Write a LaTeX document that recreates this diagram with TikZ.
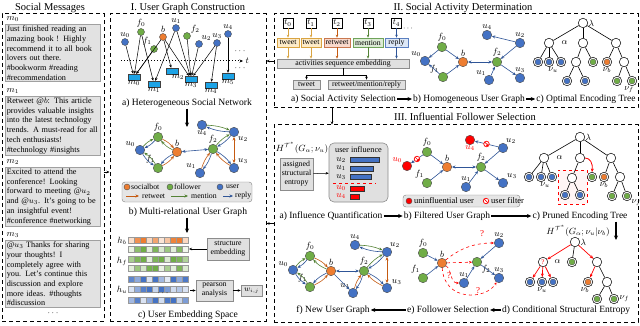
\documentclass[tikz,border=0pt]{standalone}
\usepackage{fontspec}
\setmainfont{Liberation Serif}
\usetikzlibrary{arrows.meta,calc}
\definecolor{ublue}{HTML}{4472C4}
\definecolor{fgreen}{HTML}{70AD47}
\definecolor{borange}{HTML}{ED7D31}
\definecolor{msgfill}{HTML}{E2E2E2}
\definecolor{msgdraw}{HTML}{A0A0A0}
\definecolor{mcyan}{HTML}{1CA3E6}
\definecolor{twf}{HTML}{FDEBC8}
\definecolor{twd}{HTML}{D9A441}
\definecolor{rtf}{HTML}{F9D9CC}
\definecolor{rtd}{HTML}{C9784F}
\definecolor{mnf}{HTML}{DCEBD5}
\definecolor{mnd}{HTML}{6FA35A}
\definecolor{rpf}{HTML}{DDE8F7}
\definecolor{rpd}{HTML}{5B7FC0}
\definecolor{retc}{HTML}{C55A11}
\definecolor{menc}{HTML}{548235}
\definecolor{repc}{HTML}{2F5597}
\tikzset{
  nd/.style={circle,draw=black!70,line width=0.4pt,minimum size=9.5pt,inner sep=0pt},
  usr/.style={nd,fill=ublue},
  fol/.style={nd,fill=fgreen},
  bot/.style={nd,fill=borange},
  bad/.style={nd,fill=red},
  sm/.style={minimum size=7pt},
  tn/.style={circle,draw=black,fill=white,line width=0.5pt,minimum size=9.5pt,inner sep=0pt},
  leaf/.style={tn,path picture={\filldraw[fill=#1,draw=black!70,line width=0.3pt] (path picture bounding box.center) circle (3pt);}},
  lab/.style={font=\fontsize{9}{9}\selectfont,inner sep=0.5pt},
  rlab/.style={lab,text=red},
  msgbox/.style={draw=msgdraw,fill=msgfill,line width=0.7pt,text width=92pt,align=left,inner sep=1.5pt,font=\fontsize{8.2}{9.7}\selectfont,anchor=north west},
  mrect/.style={draw=black!75,fill=mcyan,minimum width=12pt,minimum height=6pt,inner sep=0pt},
  sect/.style={draw,line width=1pt,dash pattern=on 4pt off 3pt,inner sep=0pt},
  ttl/.style={font=\fontsize{10.5}{12}\selectfont},
  capt/.style={font=\fontsize{9.5}{11}\selectfont,inner sep=1pt},
  smt/.style={font=\fontsize{7.8}{9}\selectfont},
  gbox/.style={draw=black!45,fill=black!12,line width=0.6pt,smt,align=center,inner sep=1pt},
  ret/.style={->,draw=retc,line width=0.6pt},
  men/.style={->,draw=menc,line width=0.6pt},
  rep/.style={->,draw=repc,line width=0.6pt},
  hed/.style={-{Stealth[length=3pt,width=2.5pt]},line width=0.5pt},
  bigar/.style={-{Stealth[length=4.5pt,width=4pt]},line width=1.1pt},
  filt/.style={circle,draw=red,fill=white,line width=0.7pt,minimum size=5.5pt,inner sep=0pt,path picture={\draw[red,line width=0.7pt] (path picture bounding box.north west) -- (path picture bounding box.south east);}},
  tbox/.style={draw,fill=white,minimum width=10pt,minimum height=10pt,inner sep=0.5pt,font=\fontsize{8.5}{8.5}\selectfont},
  act/.style={smt,line width=0.6pt,inner sep=1pt,minimum height=9pt},
  tedge/.style={line width=0.6pt},
  rdash/.style={red,dashed,line width=0.6pt,-{Stealth[length=3pt,width=2.5pt]}},
}
\begin{document}
\begin{tikzpicture}[x=1pt,y=-1pt,>={Stealth[length=3.5pt,width=3pt]}]
\path[use as bounding box] (0,0) rectangle (640,326);
% ---------------- section frames
\node[sect,minimum width=102pt,minimum height=307pt] (S0) at (53,167.5) {};
\node[sect,minimum width=156pt,minimum height=307pt] (S1) at (188,167.5) {};
\node[sect,minimum width=364pt,minimum height=94pt] (S2) at (456,61) {};
\node[sect,minimum width=364pt,minimum height=197pt] (S3) at (456,223.5) {};
\node[ttl] (T0) at (50,8) {Social Messages};
\node[ttl] (T1) at (188,8) {I. User Graph Construction};
\node[ttl] (T2) at (463,8) {II. Social Activity Determination};
\node[ttl] (T3) at (465,117) {III. Influential Follower Selection};
\coordinate (pA) at (104,172);
\draw[hed] (pA) -- (pA -| S1.west);
\draw[hed] (S2.west) -- (S2.west -| S1.east);
\draw[hed] (S3.west) -- (S3.west -| S1.east);
\coordinate (pD) at (332,108);
\draw[hed] (pD) -- (pD |- S3.north);
% ---------------- social messages
\node[lab,anchor=west] (lm0) at (6,19) {$m_0$};
\node[msgbox] (m0) at (5,24) {Just finished reading an\\amazing book ! Highly\\recommend it to all book\\lovers out there.\\\#bookworm \#reading\\\#recommendation};
\node[lab,anchor=west] (lm1) at (6,91) {$m_1$};
\node[msgbox] (m1) at (5,96) {Retweet @$b$: This article\\provides valuable insights\\into the latest technology\\trends. A must-read for all\\tech enthusiasts!\\\#technology \#insights};
\node[lab,anchor=west] (lm2) at (6,162) {$m_2$};
\node[msgbox] (m2) at (5,167) {Excited to attend the\\conference! Looking\\forward to meeting @$u_2$\\and @$u_3$. It's going to be\\an insightful event!\\\#conference \#networking};
\node[lab,anchor=west] (lm3) at (6,235) {$m_3$};
\node[msgbox] (m3) at (5,240) {@$u_3$ Thanks for sharing\\your thoughts! I\\completely agree with\\you. Let's continue this\\discussion and explore\\more ideas. \#thoughts\\\#discussion};
\node[lab] (mdots) at (53,313) {$\cdots$};
% ---------------- I a) heterogeneous network
\node[usr,sm,label={[lab]above:$u_0$}] (au0) at (125,42) {};
\node[fol,sm,label={[lab]above:$f_0$}] (af0) at (141,32) {};
\node[bot,sm,label={[lab]above:$b$}] (ab) at (163,37) {};
\node[fol,sm,label={[lab]120:$f_1$}] (af1) at (154,49) {};
\node[usr,sm,label={[lab]above:$u_1$}] (au1) at (176,28) {};
\node[fol,sm,label={[lab]30:$f_2$}] (af2) at (187,36) {};
\node[usr,sm,label={[lab]60:$u_2$}] (au2) at (199,44) {};
\node[usr,sm,label={[lab]above:$u_3$}] (au3) at (217,43) {};
\node[usr,sm,label={[lab]above:$u_4$}] (au4) at (228,34) {};
\node[mrect,label={[lab]below:$m_0$}] (am0) at (134,77) {};
\node[mrect,label={[lab]below:$m_1$}] (am1) at (154,84) {};
\node[mrect,label={[lab,xshift=6pt]below:$m_2$}] (am2) at (172,71) {};
\node[mrect,label={[lab]below:$m_3$}] (am3) at (191,79) {};
\node[mrect,label={[lab]below:$m_4$}] (am4) at (211,85) {};
\node[mrect,label={[lab]below:$m_5$}] (am5) at (228,76) {};
\foreach \a/\b in {au0/am0,af0/am0,af0/am1,af1/am0,ab/am0,ab/am2,ab/am3,au1/am1,au1/am3,af2/am3,au2/am3,au3/am3,au3/am4,au4/am5}
  \draw[hed] (\a) -- (\b);
\coordinate (tl0) at (121,61);
\coordinate (tl1) at (243,61);
\draw[dotted,line width=1pt,-{Stealth[length=3.5pt,width=3pt]}] (tl0) -- (tl1);
\node[lab,anchor=west] (tlab) at (245,61) {$t$};
\node[lab] (dd1) at (240,51) {$\cdots$};
\node[lab] (dd2) at (240,68) {$\cdots$};
\node[capt,font=\fontsize{9.6}{11}\selectfont] (cIa) at (187,103) {a) Heterogeneous Social Network};
\coordinate (ia) at (187,127);
\draw[bigar] (cIa.south -| ia) -- (ia);
% ---------------- I b) multi-relational graph
\node[fol,label={[lab]above:$f_0$}] (bf0) at (158,137) {};
\node[usr,label={[lab]150:$u_0$}] (bu0) at (140,150) {};
\node[bot,label={[lab]above:$b$}] (bb) at (177,152) {};
\node[fol,label={[lab]120:$f_1$}] (bf1) at (158,168) {};
\node[usr,label={[lab]below:$u_4$}] (bu4) at (202,125) {};
\node[usr,label={[lab]-45:$u_2$}] (bu2) at (234,132) {};
\node[fol,label={[lab]above:$f_2$}] (bf2) at (213,149) {};
\node[usr,label={[lab]45:$u_3$}] (bu3) at (234,168) {};
\node[usr,label={[lab]135:$u_1$}] (bu1) at (200,173) {};
\draw[men] (bu0) to[bend left=12] (bf0);
\draw[rep] (bf0) to[bend left=12] (bu0);
\draw[ret] (bf0) to[bend left=12] (bb);
\draw[men] (bb) to[bend left=12] (bf0);
\draw[rep] (bu0) to[bend right=12] (bf1);
\draw[men] (bf1) to[bend right=12] (bu0);
\draw[ret] (bf1) to[bend right=12] (bb);
\draw[rep] (bb) to[bend right=12] (bf1);
\draw[rep,<->] (bb) -- (bf2);
\draw[rep] (bu2) to[bend left=10] (bu4);
\draw[men] (bu4) to[bend left=10] (bu2);
\draw[men] (bf2) to[bend left=10] (bu2);
\draw[rep] (bu2) to[bend left=10] (bf2);
\draw[ret,<->] (bu2) -- (bu3);
\draw[ret] (bu3) to[bend left=10] (bf2);
\draw[rep] (bf2) to[bend left=10] (bu3);
\draw[ret] (bu1) to[bend left=10] (bf2);
\draw[rep] (bf2) to[bend left=10] (bu1);
\node[draw=black!50,fill=black!10,rounded corners=3pt,minimum width=130pt,minimum height=20pt,inner sep=0pt] (lgI) at (187,192) {};
\node[bot,minimum size=6pt] (lgb) at (127,187) {};
\node[smt,anchor=west,inner sep=0pt] (lgbt) at (131,187) {socialbot};
\node[fol,minimum size=6pt] (lgf) at (170,187) {};
\node[smt,anchor=west,inner sep=0pt] (lgft) at (174,187) {follower};
\node[usr,minimum size=6pt] (lgu) at (220,187) {};
\node[smt,anchor=west,inner sep=0pt] (lgut) at (226,187) {user};
\coordinate (lq0) at (126,196); \coordinate (lq1) at (139,196);
\draw[ret] (lq0) -- (lq1);
\node[smt,anchor=west,inner sep=0pt] (lgrt) at (142,196) {retweet};
\coordinate (lq2) at (171,196); \coordinate (lq3) at (188,196);
\draw[men] (lq2) -- (lq3);
\node[smt,anchor=west,inner sep=0pt] (lgmt) at (191,196) {mention};
\coordinate (lq4) at (223,196); \coordinate (lq5) at (233,196);
\draw[rep] (lq4) -- (lq5);
\node[smt,anchor=west,inner sep=0pt] (lgpt) at (235,196) {reply};
\node[capt,font=\fontsize{9.6}{11}\selectfont] (cIb) at (188,212) {b) Multi-relational User Graph};
\coordinate (ib) at (187,233);
\draw[bigar] (cIb.south -| ib) -- (ib);
% ---------------- I c) embedding space
\foreach \yy/\col/\vals in {237/borange/{25,85,100,30,70,20,45,95,100,30},
                            246/fgreen/{15,80,100,20,90,25,70,20,85,10},
                            256/fgreen/{60,90,100,20,90,100,25,100,90,55},
                            265/fgreen/{20,70,30,95,100,15,60,20,90,25},
                            276/ublue/{85,60,100,20,100,50,15,100,60,95},
                            286/ublue/{20,60,90,100,30,100,70,25,40,20},
                            297/ublue/{50,90,20,60,100,25,95,100,30,70}}{
  \foreach \c [count=\i from 0] in \vals {
    \filldraw[fill=\col!\c,draw=black!40,line width=0.3pt] ({128+6*\i},\yy) rectangle ++(6,6);
  }
}
\node[lab] (lhb) at (122,241) {$h_b$};
\node[lab] (lhf) at (122,261) {$h_f$};
\node[lab] (lhu) at (122,290) {$h_u$};
\node[lab] (rdots) at (163,293.5) {$\cdots$};
\node[gbox,minimum width=42pt,minimum height=22pt] (se) at (228,249) {structure\\embedding};
\coordinate (r2e) at (189,249);
\draw[hed] (se.west) -- (r2e);
\node[gbox,minimum width=37pt,minimum height=21pt] (pa) at (214.5,290.5) {pearson\\analysis};
\coordinate (r6e) at (190,290.5);
\draw[hed] (r6e) -- (pa.west);
\node[gbox,minimum width=21pt,minimum height=11pt] (wij) at (251.5,290.5) {$w_{i,j}$};
\draw[hed] (pa.east) -- (wij.west);
\node[capt,font=\fontsize{9.6}{11}\selectfont] (cIc) at (188,315) {c) User Embedding Space};
% ---------------- II a) activity selection
\node[tbox] (t0) at (288,23) {$t_0$};
\node[tbox] (t1) at (311,23) {$t_1$};
\node[tbox] (t2) at (337,23) {$t_2$};
\node[tbox] (t3) at (368,23) {$t_3$};
\node[tbox] (t4) at (396.5,23) {$t_4$};
\node[smt] (tdots) at (408,29) {$\cdots$};
\node[act,draw=twd,fill=twf,minimum width=22pt] (a0) at (288,42.5) {tweet};
\node[act,draw=twd,fill=twf,minimum width=20pt] (a1) at (311,42.5) {tweet};
\node[act,draw=rtd,fill=rtf,minimum width=26pt] (a2) at (337,42.5) {retweet};
\node[act,draw=mnd,fill=mnf,minimum width=30pt] (a3) at (368,42.5) {mention};
\node[act,draw=rpd,fill=rpf,minimum width=23pt] (a4) at (396.5,42.5) {reply};
\node[gbox,minimum width=132pt,minimum height=9pt,inner sep=0pt] (emb) at (343,63.5) {activities sequence embedding};
\foreach \i/\c in {0/twd,1/twd,2/retc,3/menc,4/repc}{
  \draw[hed,draw=\c,line width=0.6pt] (t\i) -- (a\i);
  \draw[hed,draw=\c,line width=0.6pt] (a\i) -- (a\i |- emb.north);
}
\node[gbox,minimum width=27pt,minimum height=9pt,inner sep=0pt] (tws) at (306.5,84.5) {tweet};
\node[gbox,minimum width=77pt,minimum height=9pt,inner sep=0pt] (rmr) at (366.5,84.5) {retweet/mention/reply};
\coordinate (br) at (343,75);
\draw[line width=0.5pt] (emb.south) -- (br);
\draw[hed] (br) -| (tws.north);
\draw[hed] (br) -| (rmr.north);
\node[capt] (cIIa) at (343.5,99) {a) Social Activity Selection};
\node[capt] (cIIb) at (469,99) {b) Homogeneous User Graph};
\node[capt] (cIIc) at (586,99) {c) Optimal Encoding Tree};
\draw[bigar] (cIIa) -- (cIIb);
\draw[bigar] (cIIb) -- (cIIc);
% ---------------- II b) homogeneous graph
\node[usr,label={[lab]135:$u_0$}] (hu0) at (425,61) {};
\node[fol,label={[lab]above:$f_0$}] (hf0) at (442,47) {};
\node[fol,label={[lab]135:$f_1$}] (hf1) at (443,77) {};
\node[bot,label={[lab]above:$b$}] (hb) at (463,62) {};
\node[usr,label={[lab]above:$u_4$}] (hu4) at (487,35) {};
\node[usr,label={[lab]above:$u_2$}] (hu2) at (520,43) {};
\node[fol,label={[lab]above:$f_2$}] (hf2) at (497,62) {};
\node[usr,label={[lab]above:$u_3$}] (hu3) at (520,78) {};
\node[usr,label={[lab]120:$u_1$}] (hu1) at (489,80) {};
\draw[rep] (hf0) -- (hu0);
\draw[rep] (hf1) -- (hu0);
\draw[rep] (hf0) -- (hb);
\draw[rep] (hf1) -- (hb);
\draw[rep,<->] (hb) -- (hf2);
\draw[rep] (hu2) -- (hu4);
\draw[rep] (hu2) -- (hf2);
\draw[rep] (hf2) -- (hu3);
\draw[rep] (hu1) -- (hf2);
% ---------------- II c) optimal encoding tree
\node[tn,label={[lab]right:$\lambda$}] (oR) at (583,23) {};
\node[tn,label={[lab,label distance=7pt]right:$\alpha$}] (oA) at (549,43) {};
\node[tn] (oB) at (583,43) {};
\node[tn] (oC) at (616,43) {};
\node[leaf=ublue] (oA1) at (538,62) {};
\node[leaf=ublue,label={[lab,xshift=4pt]below:$\nu_u$}] (oA2) at (549,62) {};
\node[leaf=ublue] (oA3) at (561,62) {};
\node[tn] (oB1) at (576,62) {};
\node[leaf=fgreen] (oB2) at (593,62) {};
\node[leaf=ublue] (oB11) at (567,81) {};
\node[leaf=ublue] (oB12) at (585,81) {};
\node[leaf=borange,label={[lab]below:$\nu_b$}] (oC1) at (607,62) {};
\node[tn] (oC2) at (624,62) {};
\node[leaf=fgreen] (oC21) at (617,81) {};
\node[leaf=fgreen,label={[lab,xshift=-3pt]below:$\nu_f$}] (oC22) at (632,81) {};
\foreach \a/\b in {oR/oA,oR/oB,oR/oC,oA/oA1,oA/oA2,oA/oA3,oB/oB1,oB/oB2,oB1/oB11,oB1/oB12,oC/oC1,oC/oC2,oC2/oC21,oC2/oC22}
  \draw[tedge] (\a) -- (\b);
% ---------------- III a) influence quantification
\node[lab] (Hq) at (302,148) {$H^{\mathcal{T}^*}(G_\alpha;\nu_u)$};
\node[gbox,minimum width=33pt,minimum height=32pt] (ase) at (296.5,174) {assigned\\structural\\entropy};
\node[draw=black!45,fill=black!12,rounded corners=5pt,minimum width=59pt,minimum height=59pt,line width=0.6pt] (uib) at (358.5,172.5) {};
\node[smt,font=\fontsize{8.3}{9}\selectfont] (uit) at (358.5,150) {user influence};
\draw[hed] (ase) -- (uib);
\node[lab] (q2) at (341,160) {$u_2$};
\node[draw=black!80,fill=ublue,minimum width=29pt,minimum height=5pt,inner sep=0pt,anchor=west] (bq2) at (350,160) {};
\node[lab] (q1) at (341,168.5) {$u_1$};
\node[draw=black!80,fill=ublue,minimum width=23pt,minimum height=5pt,inner sep=0pt,anchor=west] (bq1) at (350,168.5) {};
\node[lab] (q3) at (341,177) {$u_3$};
\node[draw=black!80,fill=ublue,minimum width=21pt,minimum height=5pt,inner sep=0pt,anchor=west] (bq3) at (350,177) {};
\draw[red,dashed,line width=0.6pt] (333,183) -- (376,183);
\node[rlab] (q0) at (341,188.5) {$u_0$};
\node[draw=black!80,fill=red,minimum width=14pt,minimum height=5pt,inner sep=0pt,anchor=west] (bq0) at (350,188.5) {};
\node[rlab] (q4) at (341,196.5) {$u_4$};
\node[draw=black!80,fill=red,minimum width=9pt,minimum height=5pt,inner sep=0pt,anchor=west] (bq4) at (350,196.5) {};
\node[capt] (cIIIa) at (331,216) {a) Influence Quantification};
\node[capt] (cIIIb) at (447,216) {b) Filtered User Graph};
\node[capt] (cIIIc) at (580,216) {c) Pruned Encoding Tree};
\draw[bigar] (cIIIa) -- (cIIIb);
\draw[bigar] (cIIIb) -- (cIIIc);
\node[capt] (cIIId) at (566,310) {d) Conditional Structural Entropy};
\node[capt] (cIIIe) at (448,310) {e) Follower Selection};
\node[capt] (cIIIf) at (333,310) {f) New User Graph};
\draw[bigar] (cIIId) -- (cIIIe);
\draw[bigar] (cIIIe) -- (cIIIf);
% ---------------- III b) filtered graph
\node[bad,label={[rlab]150:$u_0$}] (gu0) at (407,166) {};
\node[fol,label={[lab]above:$f_0$}] (gf0) at (427,152) {};
\node[fol,label={[lab]120:$f_1$}] (gf1) at (427,183) {};
\node[bot,label={[lab]above:$b$}] (gb) at (447,167) {};
\node[bad,label={[rlab]below:$u_4$}] (gu4) at (470,140) {};
\node[usr,label={[lab]60:$u_2$}] (gu2) at (503,148) {};
\node[fol,label={[lab]above:$f_2$}] (gf2) at (481,167) {};
\node[usr,label={[lab]45:$u_3$}] (gu3) at (503,183) {};
\node[usr,label={[lab]above:$u_1$}] (gu1) at (466,187) {};
\draw[rep] (gf0) -- node[filt] (gx1) {} (gu0);
\draw[rep] (gf0) -- (gb);
\draw[rep] (gf1) -- (gb);
\draw[rep,<->] (gb) -- (gf2);
\draw[rep] (gu2) -- node[filt] (gx2) {} (gu4);
\draw[rep] (gu2) -- (gf2);
\draw[rep] (gf2) -- (gu3);
\draw[rep] (gu1) -- (gf2);
\node[draw=black!50,fill=black!10,rounded corners=3pt,minimum width=117pt,minimum height=12pt,inner sep=0pt] (lgIII) at (461.5,201) {};
\node[bad,minimum size=6pt] (lgr) at (409,201) {};
\node[smt,font=\fontsize{8.5}{9}\selectfont,anchor=west,inner sep=0pt] (lgrt) at (414,201) {uninfluential user};
\node[filt] (lgx) at (486,201) {};
\node[smt,font=\fontsize{8.5}{9}\selectfont,anchor=west,inner sep=0pt] (lgxt) at (491,201) {user filter};
% ---------------- III c) pruned tree
\node[draw=red,dashed,line width=0.7pt,fill=red!4,minimum width=29pt,minimum height=34pt,inner sep=0pt] (prune) at (572.5,187) {};
\node[tn,label={[lab]right:$\lambda$}] (pR) at (580,137) {};
\node[tn,label={[lab,label distance=7pt]right:$\alpha$}] (pA) at (544,158) {};
\node[tn] (pB) at (580,158) {};
\node[tn] (pC) at (611,158) {};
\node[leaf=ublue] (pA1) at (529,177) {};
\node[leaf=ublue,label={[lab,xshift=4pt]below:$\nu_u$}] (pA2) at (541,177) {};
\node[leaf=ublue] (pA3) at (552,177) {};
\node[tn] (pB1) at (572,178) {};
\node[leaf=ublue] (pB11) at (565,195) {};
\node[leaf=ublue] (pB12) at (580,195) {};
\node[leaf=fgreen] (pB2) at (592,177) {};
\node[leaf=borange,label={[lab]below:$\nu_b$}] (pC1) at (604,177) {};
\node[tn] (pC2) at (620,177) {};
\node[leaf=fgreen] (pC21) at (612,196) {};
\node[leaf=fgreen,label={[lab]-40:$\nu_f$}] (pC22) at (627,196) {};
\foreach \a/\b in {pR/pA,pR/pB,pR/pC,pA/pA1,pA/pA2,pA/pA3,pB/pB1,pB1/pB11,pB1/pB12,pC/pC1,pC/pC2,pC2/pC21,pC2/pC22}
  \draw[tedge] (\a) -- (\b);
\draw[red,line width=0.8pt,-{Stealth[length=3.5pt,width=3pt]}] (pB.east) .. controls (590,158) and (593,163) .. (pB2.north);
% ---------------- III d) conditional structural entropy
\node[lab] (Hd) at (578,231) {$H^{\mathcal{T}^*}(G_\alpha;\nu_u|\nu_b)$};
\coordinate (dar) at (616,240);
\draw[bigar] (cIIIc.south -| dar) -- (dar);
\node[tn,label={[lab]right:$\lambda$}] (dR) at (575,242) {};
\node[tn,font=\fontsize{7}{7}\selectfont,text=red,label={[lab,label distance=6pt]right:$\alpha$}] (dA) at (543,262) {?};
\node[leaf=fgreen] (dB) at (572,262) {};
\node[tn] (dC) at (597,262) {};
\node[leaf=ublue] (dA1) at (530,282) {};
\node[leaf=ublue,label={[lab]below:$\nu_u$}] (dA2) at (542,282) {};
\node[leaf=ublue] (dA3) at (553,282) {};
\node[leaf=borange,label={[lab,xshift=-3pt]below:$\nu_b$}] (dC1) at (588,282) {};
\node[tn] (dC2) at (607,282) {};
\node[leaf=fgreen] (dC21) at (597,299) {};
\node[leaf=fgreen,label={[lab]right:$\nu_f$}] (dC22) at (614,299) {};
\draw[red,line width=0.7pt,->] (dR) -- (dA);
\draw[red,line width=0.7pt,->] (dR) -- (dC);
\foreach \x in {dA1,dA2,dA3} \draw[red,line width=0.7pt,->] (dA) -- (\x);
\draw[red,line width=0.7pt,->] (dC) -- (dC1);
\foreach \a/\b in {dR/dB,dC/dC2,dC2/dC21,dC2/dC22} \draw[tedge] (\a) -- (\b);
% ---------------- III e) follower selection
\node[fol,label={[lab]above:$f_0$}] (ef0) at (423,253) {};
\node[bot,label={[lab]above:$b$}] (eb) at (442,263) {};
\node[fol,label={[lab]120:$f_1$}] (ef1) at (423,278) {};
\node[usr,label={[lab]above:$u_2$}] (eu2) at (499,243) {};
\node[fol,label={[lab]-35:$f_2$}] (ef2) at (477,262) {};
\node[usr,label={[lab]above:$u_3$}] (eu3) at (499,278) {};
\node[usr,label={[lab]above:$u_1$}] (eu1) at (464,283) {};
\draw[rep] (ef0) -- (eb);
\draw[rep] (ef1) -- (eb);
\draw[rep] (eu2) -- (ef2);
\draw[rep] (ef2) -- (eu3);
\draw[rep] (eu1) -- (ef2);
\draw[rdash] (eb) -- (ef2);
\draw[rdash] (eb) .. controls (458,250) and (472,243) .. (eu2);
\draw[rdash] (eb) .. controls (452,270) and (450,283) .. (eu1);
\draw[rdash] (eb) .. controls (444,302) and (486,300) .. (eu3);
\node[rlab] (qq1) at (482,234) {?};
\node[rlab] (qq2) at (449,276) {?};
\node[rlab] (qq3) at (478,291) {?};
% ---------------- III f) new user graph
\node[usr,label={[lab]150:$u_0$}] (fu0) at (293,270) {};
\node[fol,label={[lab]above:$f_0$}] (ff0) at (310,256) {};
\node[fol,label={[lab]120:$f_1$}] (ff1) at (310,287) {};
\node[bot,label={[lab]above:$b$}] (fb) at (331,271) {};
\node[usr,label={[lab]above:$u_4$}] (fu4) at (355,245) {};
\node[usr,label={[lab]60:$u_2$}] (fu2) at (387,252) {};
\node[fol,label={[lab]above:$f_2$}] (ff2) at (364,271) {};
\node[usr,label={[lab]30:$u_3$}] (fu3) at (387,288) {};
\node[usr,label={[lab]120:$u_1$}] (fu1) at (353,293) {};
\draw[men] (fu0) to[bend left=12] (ff0);
\draw[rep] (ff0) to[bend left=12] (fu0);
\draw[ret] (ff0) to[bend left=12] (fb);
\draw[men] (fb) to[bend left=12] (ff0);
\draw[rep] (fu0) to[bend right=12] (ff1);
\draw[men] (ff1) to[bend right=12] (fu0);
\draw[ret] (ff1) to[bend right=12] (fb);
\draw[rep] (fb) to[bend right=12] (ff1);
\draw[rep,<->] (fb) -- (ff2);
\draw[rep] (fb) -- (fu1);
\draw[rep] (fu2) to[bend left=10] (fu4);
\draw[men] (fu4) to[bend left=10] (fu2);
\draw[men] (ff2) to[bend left=10] (fu2);
\draw[rep] (fu2) to[bend left=10] (ff2);
\draw[ret,<->] (fu2) -- (fu3);
\draw[ret] (fu3) to[bend left=10] (ff2);
\draw[rep] (ff2) to[bend left=10] (fu3);
\draw[ret] (fu1) to[bend left=10] (ff2);
\draw[rep] (ff2) to[bend left=10] (fu1);
\end{tikzpicture}
\end{document}
